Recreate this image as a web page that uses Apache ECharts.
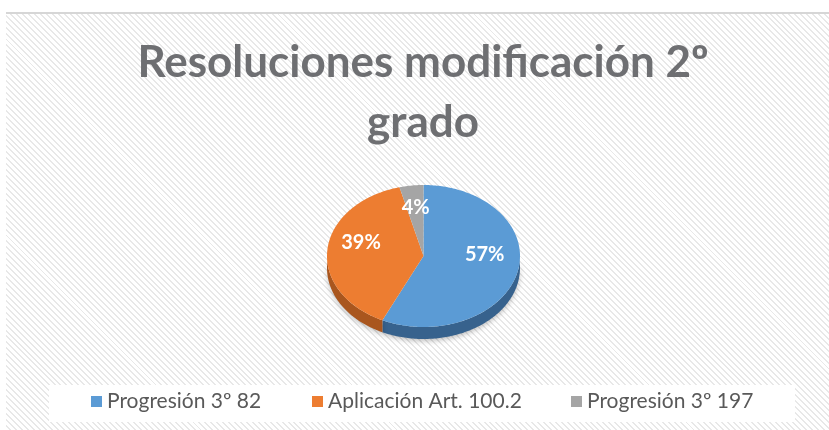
<!DOCTYPE html>
<html>
<head>
<meta charset="utf-8">
<script src="https://cdn.jsdelivr.net/npm/echarts@6/dist/echarts.min.js"></script>
<style>
  html, body { margin: 0; padding: 0; background: #fff; }
  #bg {
    position: absolute; left: 6px; top: 12px; width: 823px; height: 418px;
    border-top: 2px solid #d6d6d6;
    background: repeating-linear-gradient(45deg, #e8e8e8 0 1.4px, #ffffff 1.4px 4.2px);
  }
  #chart { position: absolute; left: 0; top: 0; width: 829px; height: 430px; }
</style>
</head>
<body>
<div id="bg"></div>
<div id="chart"></div>
<script>
const categories = ['Progresión 3º 82', 'Aplicación Art. 100.2', 'Progresión 3º 197'];
const values = [57, 39, 4];

const colors = ['#5b9bd5', '#ed7d31', '#a5a5a5'];
const sideColors = ['#37628d', '#a9561e', '#7a7a7a'];
const legendLefts = [91, 312, 571];

// pie geometry (tilted ellipse)
const CX = 423.5, CY = 256, RX = 96.5, RY = 71, DEPTH = 12;
const total = values.reduce((a, b) => a + b, 0);

function arcPts(a0, a1, dy) {
  const pts = [];
  const n = Math.max(2, Math.ceil((a1 - a0) / (Math.PI / 180)));
  for (let k = 0; k <= n; k++) {
    const t = a0 + (a1 - a0) * k / n;
    pts.push([CX + RX * Math.sin(t), CY - RY * Math.cos(t) + dy]);
  }
  return pts;
}

function renderItem(params, api) {
  const i = params.seriesIndex;
  const v = api.value(0);
  let before = 0;
  for (let j = 0; j < i; j++) before += values[j];
  const a0 = before / total * Math.PI * 2;
  const a1 = (before + v) / total * Math.PI * 2;
  const children = [];

  const lo = Math.max(a0, Math.PI / 2), hi = Math.min(a1, Math.PI * 1.5);
  if (hi > lo) {
    const side = arcPts(lo, hi, 0).concat(arcPts(lo, hi, DEPTH).reverse());
    children.push({
      type: 'polygon', z2: 1,
      shape: { points: side },
      style: { fill: sideColors[i], shadowColor: 'rgba(0,0,0,0.25)', shadowBlur: 5, shadowOffsetY: 2 }
    });
  }
  children.push({
    type: 'polygon', z2: 5,
    shape: { points: [[CX, CY]].concat(arcPts(a0, a1, 0)) },
    style: { fill: colors[i] }
  });

  const mid = (a0 + a1) / 2;
  children.push({
    type: 'text', z2: 10,
    x: CX + RX * 0.65 * Math.sin(mid),
    y: CY - 10 - RY * 0.54 * Math.cos(mid),
    style: {
      text: Math.round(v / total * 100) + '%',
      fill: '#ffffff',
      font: 'bold 20px Lato',
      align: 'center',
      verticalAlign: 'middle'
    }
  });
  return { type: 'group', children: children };
}

const chart = echarts.init(document.getElementById('chart'));
chart.setOption({
  animation: false,
  title: {
    text: 'Resoluciones modificación 2º\ngrado',
    left: 423,
    top: 33,
    padding: 0,
    textAlign: 'center',
    textStyle: {
      fontFamily: 'Lato',
      fontWeight: 'bold',
      fontSize: 44,
      lineHeight: 60,
      color: '#6e6f72'
    }
  },
  // white box behind the legend
  graphic: [{
    type: 'rect', z: 0,
    shape: { x: 49, y: 385, width: 746, height: 37 },
    style: { fill: '#ffffff' }
  }],
  legend: categories.map((c, i) => ({
    data: [c],
    left: legendLefts[i],
    top: 391,
    padding: 0,
    icon: 'rect',
    itemWidth: 11,
    itemHeight: 11,
    textStyle: { fontFamily: 'Lato', fontSize: 21, color: '#595959' }
  })),
  series: categories.map((name, i) => ({
    type: 'custom',
    name: name,
    coordinateSystem: 'none',
    itemStyle: { color: colors[i] },
    data: [values[i]],
    renderItem: renderItem
  }))
});
</script>
</body>
</html>
